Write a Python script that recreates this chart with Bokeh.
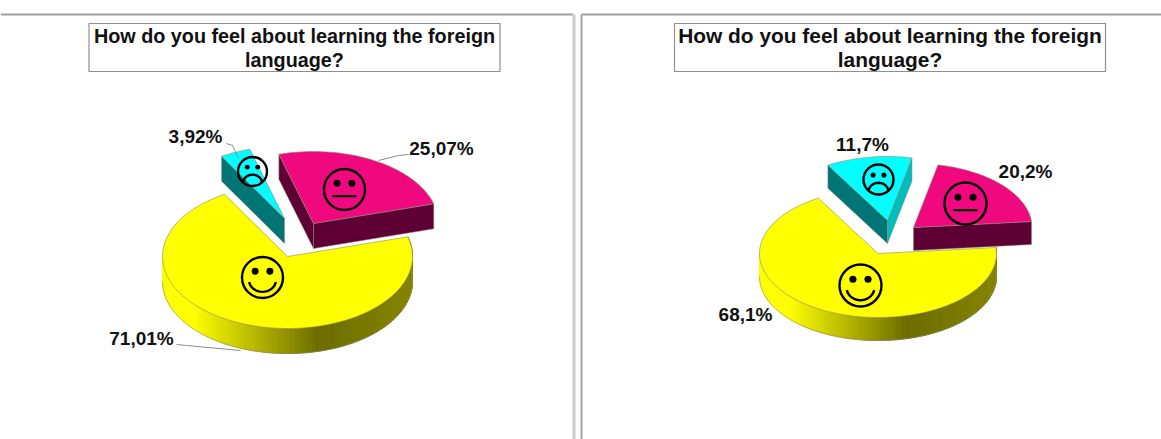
import math

from bokeh.core.properties import value
from bokeh.embed import file_html
from bokeh.models import Range1d
from bokeh.plotting import figure
from bokeh.resources import INLINE

# Survey answers, in percent, for the two groups
categories = ["sad", "neutral", "happy"]
group_a_values = [3.92, 25.07, 71.01]
group_b_values = [11.7, 20.2, 68.1]
group_a_labels = ["3,92%", "25,07%", "71,01%"]
group_b_labels = ["11,7%", "20,2%", "68,1%"]
title_lines = ["How do you feel about learning the foreign", "language?"]

WIDTH, HEIGHT = 1161, 439

FILL = {"sad": "#00FFFF", "neutral": "#F0087F", "happy": "#FFFF00"}
WALL = {"sad": "#007575", "neutral": "#5E0034", "happy": "#808000"}
WALL_LIT = {"sad": "#00BDBD", "neutral": "#5E0034", "happy": "#808000"}
EDGE = "#8a8a70"
FONT = value("Liberation Sans")

# Layout of each tilted pie: ellipse radii, thickness, first angle, and the
# centre of each wedge once it has been pulled out of the pie.
PIE_A = dict(rx=125, ry=72, depth=25, start=-120.2,
             centres={"sad": (284, 218), "neutral": (313, 223), "happy": (287, 256)},
             faces={"sad": (252, 171, 14.5), "neutral": (344, 189, 20.5), "happy": (262, 277, 20.5)},
             labels={"sad": (195, 136), "neutral": (441, 148), "happy": (141, 338)},
             leaders={"sad": [(226, 143), (232, 145), (238, 158)],
                      "neutral": [(408, 154), (398, 155), (378, 160)],
                      "happy": [(176, 344), (186, 345), (240, 350)]},
             box=(88.5, 499.5), title_size="19.8px")
PIE_B = dict(rx=118.5, ry=64, depth=23, start=-120.2,
             centres={"sad": (887, 220), "neutral": (913, 227), "happy": (877.5, 253)},
             faces={"sad": (878, 179, 15), "neutral": (965, 203, 21), "happy": (860, 285, 21)},
             labels={"sad": (862, 144), "neutral": (1025, 171), "happy": (745, 314)},
             leaders={},
             box=(674, 1105), title_size="20.9px")

p = figure(width=WIDTH, height=HEIGHT, output_backend="svg", toolbar_location=None,
           x_range=Range1d(0, WIDTH), y_range=Range1d(HEIGHT, 0),
           min_border=0, outline_line_color=None, background_fill_color="white")
p.axis.visible = False
p.grid.visible = False


def mix(c0, c1, f):
    a = [int(c0[i:i + 2], 16) for i in (1, 3, 5)]
    b = [int(c1[i:i + 2], 16) for i in (1, 3, 5)]
    return "#%02x%02x%02x" % tuple(round(u + (v - u) * f) for u, v in zip(a, b))


def rim(cx, cy, rx, ry, t):
    r = math.radians(t)
    return cx + rx * math.cos(r), cy + ry * math.sin(r)


def arc_angles(a, b, step=2.0):
    n = max(2, int(abs(b - a) / step) + 1)
    return [a + (b - a) * i / (n - 1) for i in range(n)]


def draw_top(cfg, name, a, b):
    cx, cy = cfg["centres"][name]
    ts = arc_angles(a, b)
    xs, ys = zip(*(rim(cx, cy, cfg["rx"], cfg["ry"], t) for t in ts))
    p.patch([cx, *xs], [cy, *ys], fill_color=FILL[name], line_color=EDGE, line_width=0.6)


def draw_wedge(cfg, name, a, b):
    cx, cy = cfg["centres"][name]
    rx, ry, d = cfg["rx"], cfg["ry"], cfg["depth"]

    # Cut faces that turn toward the viewer
    if math.cos(math.radians(a)) < 0:
        x, y = rim(cx, cy, rx, ry, a)
        p.patch([cx, x, x, cx], [cy, y, y + d, cy + d], fill_color=WALL[name],
                line_color=EDGE, line_width=0.5)
    if math.cos(math.radians(b)) > 0:
        x, y = rim(cx, cy, rx, ry, b)
        p.patch([cx, x, x, cx], [cy, y, y + d, cy + d], fill_color=WALL_LIT[name],
                line_color=EDGE, line_width=0.5)
    draw_top(cfg, name, a, b)


def wall_shade(x, cx, rx):
    f = (x - (cx - rx)) / (2 * rx)
    if f < 0.12:
        return "#FFFF00"
    if f < 0.62:
        return mix("#FFFF00", "#6C6C00", (f - 0.12) / 0.5)
    return mix("#6C6C00", "#858500", (f - 0.62) / 0.38)


def draw_near_wall(cfg, a):
    # The yellow wedge wraps round the front, so its wall starts at the cut edge
    cx, cy = cfg["centres"]["happy"]
    rx, ry, d = cfg["rx"], cfg["ry"], cfg["depth"]
    ts = arc_angles(a, 180)
    for t0, t1 in zip(ts, ts[1:]):
        x0, y0 = rim(cx, cy, rx, ry, t0)
        x1, y1 = rim(cx, cy, rx, ry, t1)
        shade = wall_shade((x0 + x1) / 2, cx, rx)
        p.patch([x0, x1, x1, x0], [y0, y1, y1 + d, y0 + d],
                fill_color=shade, line_color=shade, line_width=1)
    xs, ys = zip(*(rim(cx, cy, rx, ry, t) for t in ts))
    p.line(list(xs), [y + d for y in ys], line_color=EDGE, line_width=0.6)


def draw_face(name, cx, cy, r):
    p.ellipse([cx], [cy], width=2 * r, height=2 * r, fill_color=None,
              line_color="black", line_width=2.4)
    p.ellipse([cx - 0.36 * r, cx + 0.36 * r], [cy - 0.3 * r] * 2, width=0.34 * r, height=0.34 * r,
              fill_color="black", line_color=None)
    if name == "neutral":
        p.line([cx - 0.58 * r, cx + 0.58 * r], [cy + 0.32 * r] * 2, line_color="black", line_width=2.2)
        return
    ts = arc_angles(10, 170, 10)
    xs = [cx + 0.66 * r * math.cos(math.radians(t)) for t in ts]
    if name == "happy":
        ys = [cy + 0.12 * r + 0.58 * r * math.sin(math.radians(t)) for t in ts]
    else:
        ys = [cy + 0.8 * r - 0.58 * r * math.sin(math.radians(t)) for t in ts]
    p.line(xs, ys, line_color="black", line_width=2.4)


def draw_pie(cfg, values, labels):
    # Wedge angles come straight from the survey shares
    a = cfg["start"]
    angles = {}
    for name, share in zip(categories, values):
        angles[name] = (a, a + share * 3.6)
        a += share * 3.6

    draw_near_wall(cfg, angles["happy"][0])
    draw_top(cfg, "happy", *angles["happy"])
    draw_wedge(cfg, "sad", *angles["sad"])
    draw_wedge(cfg, "neutral", *angles["neutral"])

    for name, label in zip(categories, labels):
        draw_face(name, *cfg["faces"][name])
        x, y = cfg["labels"][name]
        p.text([x], [y], text=[label], text_font=FONT, text_font_style="bold",
               text_font_size="19px", text_color="#111111", text_align="center",
               text_baseline="middle")
        if name in cfg["leaders"]:
            lx, ly = zip(*cfg["leaders"][name])
            p.line(lx, ly, line_color="#8c8c8c", line_width=1)

    x0, x1 = cfg["box"]
    p.quad(left=[x0], right=[x1], top=[23], bottom=[71], fill_color="white",
           line_color="#8f8f8f", line_width=1.2)
    for line, y in zip(title_lines, (35, 59)):
        p.text([(x0 + x1) / 2], [y], text=[line], text_font=FONT,
               text_font_style="bold", text_font_size=cfg["title_size"], text_color="#111111",
               text_align="center", text_baseline="middle")


# Frame rules between the two panels
p.line([0, 573], [14, 14], line_color="#a0a0a0", line_width=2)
p.line([581, WIDTH], [14, 14], line_color="#a0a0a0", line_width=2)
p.line([573.5, 573.5], [14, HEIGHT], line_color="#cccccc", line_width=3)
p.line([581, 581], [14, HEIGHT], line_color="#a4a4a4", line_width=2)

draw_pie(PIE_A, group_a_values, group_a_labels)
draw_pie(PIE_B, group_b_values, group_b_labels)

open("out.html", "w").write(file_html(p, INLINE))
